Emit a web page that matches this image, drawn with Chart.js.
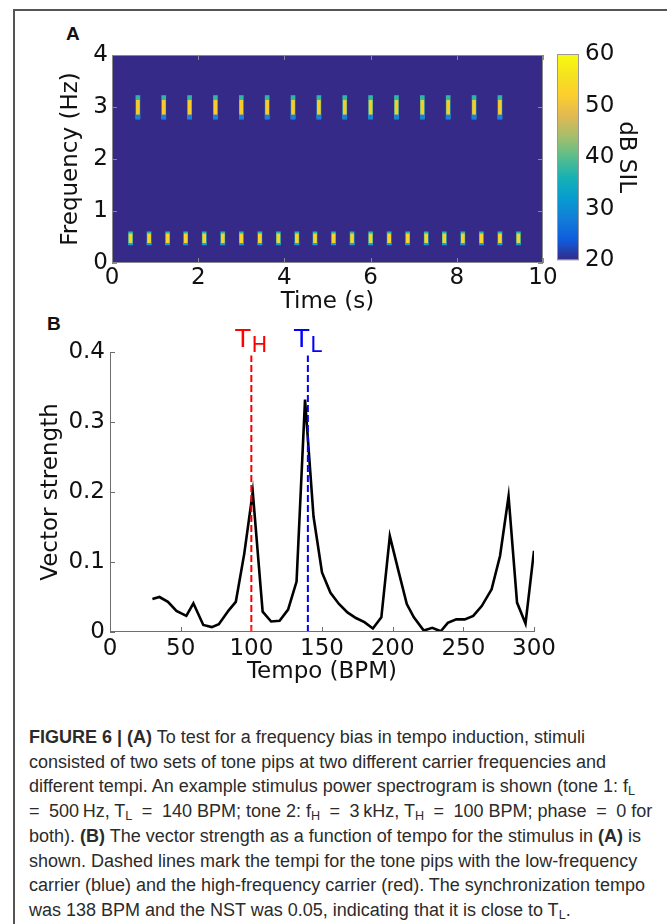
<!DOCTYPE html>
<html lang="en">
<head>
<meta charset="UTF-8">
<title>Figure 6</title>
<script src="https://cdn.jsdelivr.net/npm/chart.js"></script>
<style>
    body { margin: 0; background: #fff; }
    #page { position: relative; width: 667px; height: 924px; overflow: hidden; background: #fff; }
    .frame-left { position: absolute; left: 13px; top: 9px; width: 1.5px; height: 915px; background: #555; }
    .frame-top { position: absolute; left: 13px; top: 9px; width: 654px; height: 1.5px; background: #555; }
    canvas { position: absolute; }
    .panel-tag { position: absolute; font: bold 19px "Liberation Sans", Arial, sans-serif; color: #111; }
    #caption { position: absolute; left: 29px; top: 725px; font-family: "Liberation Sans Narrow", "Liberation Sans", Arial, sans-serif;
               font-size: 18px; line-height: 24.7px; color: #2b2b2b; white-space: nowrap; }
    #caption sub { font-size: 70%; vertical-align: -3px; line-height: 0; }
    #caption .eq { margin: 0 4.5px; }
</style>
</head>
<body>
<div id="page">
    <div class="frame-left"></div>
    <div class="frame-top"></div>
    <div class="panel-tag" style="left:66px; top:23px;">A</div>
    <div class="panel-tag" style="left:47px; top:313px;">B</div>

    <div style="position:absolute; left:0; top:30px; width:560px; height:290px;"><canvas id="spectro"></canvas></div>
    <div style="position:absolute; left:540px; top:30px; width:127px; height:250px;"><canvas id="colorbar"></canvas></div>
    <div style="position:absolute; left:0; top:310px; width:667px; height:380px;"><canvas id="vs"></canvas></div>

    <div id="caption">
        <div><b>FIGURE 6 | (A)</b> To test for a frequency bias in tempo induction, stimuli</div>
        <div>consisted of two sets of tone pips at two different carrier frequencies and</div>
        <div>different tempi. An example stimulus power spectrogram is shown (tone 1: f<sub>L</sub></div>
        <div><span class="eq" style="margin-left:0">=</span> 500&#8201;Hz, T<sub>L</sub> <span class="eq">=</span> 140 BPM; tone 2: f<sub>H</sub> <span class="eq">=</span> 3&#8201;kHz, T<sub>H</sub> <span class="eq">=</span> 100 BPM; phase <span class="eq">=</span> 0 for</div>
        <div>both). <b>(B)</b> The vector strength as a function of tempo for the stimulus in <b>(A)</b> is</div>
        <div>shown. Dashed lines mark the tempi for the tone pips with the low-frequency</div>
        <div>carrier (blue) and the high-frequency carrier (red). The synchronization tempo</div>
        <div>was 138 BPM and the NST was 0.05, indicating that it is close to T<sub>L</sub>.</div>
    </div>
</div>

<script>
    // ---- data ----
    // panel A: tone pip onsets (s) and the frequency bands they cover (Hz)
    const lowPipTimes = [0.43, 0.86, 1.29, 1.71, 2.14, 2.57, 3.0, 3.43, 3.86, 4.29, 4.71,
                         5.14, 5.57, 6.0, 6.43, 6.86, 7.29, 7.71, 8.14, 8.57, 9.0, 9.43];
    const highPipTimes = [0.6, 1.2, 1.8, 2.4, 3.0, 3.6, 4.2, 4.8, 5.4, 6.0, 6.6, 7.2, 7.8, 8.4, 9.0];
    const lowPipBand = [0.35, 0.60];
    const lowPipCore = [0.39, 0.56];
    const lowPipTip = [0.35, 0.40];
    const highPipBand = [2.77, 3.22];
    const highPipCore = [2.86, 3.13];
    const highPipTip = [2.77, 2.86];
    const dbRange = [20, 60];

    // panel B: vector strength vs tempo
    const tempoBpm = [30, 35, 41, 47, 54, 59, 66, 72, 77, 84, 89, 95, 101, 108, 114, 120, 126, 132,
                      138, 144, 150, 156, 162, 168, 174, 180, 186, 192, 198, 204, 210, 215, 222, 228,
                      234, 239, 245, 251, 257, 263, 270, 276, 282, 288, 294, 300];
    const vectorStrength = [0.047, 0.050, 0.043, 0.030, 0.023, 0.041, 0.010, 0.007, 0.011, 0.031,
                            0.043, 0.112, 0.200, 0.029, 0.015, 0.016, 0.032, 0.072, 0.332, 0.165,
                            0.085, 0.056, 0.040, 0.028, 0.020, 0.014, 0.005, 0.021, 0.137, 0.088,
                            0.040, 0.021, 0.002, 0.006, 0.001, 0.013, 0.018, 0.018, 0.023, 0.037,
                            0.061, 0.109, 0.194, 0.042, 0.012, 0.116];
    const markerTempi = [100, 140];
    const markerNames = ['H', 'L'];
    const markerTop = 0.395;

    // ---- styles ----
    const parula = ['#352a87', '#0f5cdd', '#127dd8', '#079ccf', '#15b1b4', '#59bd8c',
                    '#a5be6b', '#e1b952', '#fcce2e', '#f5e31e', '#f9fb0e'];
    const markerColors = ['#ff0000', '#0000ff'];
    const axisGray = '#6e6e6e';

    Chart.defaults.font.family = 'DejaVu Sans';
    Chart.defaults.font.size = 23;
    Chart.defaults.color = '#111';
    Chart.defaults.animation = false;
    Chart.defaults.responsive = true;
    Chart.defaults.maintainAspectRatio = false;
    Chart.defaults.plugins.legend.display = false;
    Chart.defaults.plugins.tooltip.enabled = false;

    const noGrid = {display: false, drawTicks: false};

    // MATLAB style axes: ticks pointing into the plot
    const inwardTicks = {
        id: 'inwardTicks',
        afterDatasetsDraw(chart, args, opts) {
            const {ctx, chartArea: a, scales: {x, y}} = chart;
            const len = opts.len || 5;
            ctx.save();
            ctx.strokeStyle = opts.color || axisGray;
            ctx.lineWidth = 1;
            ctx.beginPath();
            if (opts.box) {
                ctx.rect(a.left + 0.5, a.top + 0.5, a.width - 1, a.height - 1);
            } else {
                ctx.moveTo(a.left + 0.5, a.top);
                ctx.lineTo(a.left + 0.5, a.bottom - 0.5);
                ctx.lineTo(a.right, a.bottom - 0.5);
            }
            x.ticks.forEach(t => {
                const px = Math.round(x.getPixelForValue(t.value)) + 0.5;
                ctx.moveTo(px, a.bottom); ctx.lineTo(px, a.bottom - len);
                if (opts.box) { ctx.moveTo(px, a.top); ctx.lineTo(px, a.top + len); }
            });
            y.ticks.forEach(t => {
                const py = Math.round(y.getPixelForValue(t.value)) + 0.5;
                ctx.moveTo(a.left, py); ctx.lineTo(a.left + len, py);
                if (opts.box) { ctx.moveTo(a.right, py); ctx.lineTo(a.right - len, py); }
            });
            ctx.stroke();
            ctx.restore();
        }
    };

    const plotBackground = {
        id: 'plotBackground',
        beforeDatasetsDraw(chart, args, opts) {
            const {ctx, chartArea: a} = chart;
            ctx.save();
            ctx.fillStyle = opts.color;
            ctx.fillRect(a.left, a.top, a.width, a.height);
            ctx.restore();
        }
    };

    // ---- panel A: spectrogram ----
    const pipSet = (times, range) => times.map(t => ({x: t, y: range}));
    const pipDs = (data, color, order, thick) => ({
        data, backgroundColor: color, order, barThickness: thick, grouped: false, borderWidth: 0
    });

    new Chart(document.getElementById('spectro'), {
        type: 'bar',
        data: {
            datasets: [
                pipDs(pipSet(highPipTimes, highPipBand), '#2fb6a4', 3, 4),
                pipDs(pipSet(highPipTimes, highPipTip), '#1a80e0', 2, 4),
                pipDs(pipSet(highPipTimes, highPipCore), '#f6cb2a', 1, 3),
                pipDs(pipSet(lowPipTimes, lowPipBand), '#2fb6a4', 3, 4),
                pipDs(pipSet(lowPipTimes, lowPipTip), '#1a9ad8', 2, 4),
                pipDs(pipSet(lowPipTimes, lowPipCore), '#f6d22a', 1, 3)
            ]
        },
        options: {
            layout: {padding: {left: 53, right: 17, top: 25, bottom: 0}},
            scales: {
                x: {
                    type: 'linear', min: 0, max: 10, offset: false,
                    grid: noGrid, border: {display: false},
                    ticks: {stepSize: 2, padding: 1, maxRotation: 0},
                    title: {display: true, text: 'Time (s)', padding: {top: 0, bottom: 4}},
                    afterFit: s => { s.height = 57; }
                },
                y: {
                    min: 0, max: 4,
                    grid: noGrid, border: {display: false},
                    ticks: {stepSize: 1, padding: 4},
                    title: {display: true, text: 'Frequency (Hz)', padding: {top: 4, bottom: 0}},
                    afterFit: s => { s.width = 59; }
                }
            },
            plugins: {
                plotBackground: {color: parula[0]},
                inwardTicks: {box: true, color: '#8a8a8a', len: 5}
            }
        },
        plugins: [plotBackground, inwardTicks]
    });

    // ---- colour bar ----
    new Chart(document.getElementById('colorbar'), {
        type: 'bar',
        data: {
            labels: [''],
            datasets: [{
                data: [dbRange],
                barPercentage: 1, categoryPercentage: 1, borderWidth: 0,
                backgroundColor: ctx => {
                    const a = ctx.chart.chartArea;
                    if (!a) return parula[0];
                    const g = ctx.chart.ctx.createLinearGradient(0, a.bottom, 0, a.top);
                    parula.forEach((c, i) => g.addColorStop(i / (parula.length - 1), c));
                    return g;
                }
            }]
        },
        options: {
            layout: {padding: {left: 17, right: 21, top: 24, bottom: 17}},
            scales: {
                x: {display: false},
                y: {
                    position: 'right', min: dbRange[0], max: dbRange[1],
                    grid: noGrid, border: {display: false},
                    ticks: {stepSize: 10, padding: 6},
                    title: {display: true, text: 'dB SIL', padding: {top: 6, bottom: 4}},
                    afterFit: s => { s.width = 67; }
                }
            }
        },
        plugins: [{
            id: 'barFrame',
            afterDatasetsDraw(chart) {
                const {ctx, chartArea: a} = chart;
                ctx.save();
                ctx.strokeStyle = '#9a9a9a';
                ctx.lineWidth = 1;
                ctx.strokeRect(a.left + 0.5, a.top + 0.5, a.width - 1, a.height - 1);
                ctx.restore();
            }
        }]
    });

    // ---- panel B: vector strength ----
    const tempoLabels = {
        id: 'tempoLabels',
        afterDraw(chart) {
            const {ctx, chartArea: a, scales: {x}} = chart;
            ctx.save();
            ctx.textBaseline = 'alphabetic';
            ctx.textAlign = 'left';
            markerTempi.forEach((v, i) => {
                const px = x.getPixelForValue(v);
                ctx.font = '25px "DejaVu Sans"';
                const wT = ctx.measureText('T').width;
                ctx.font = '21px "DejaVu Sans"';
                const wS = ctx.measureText(markerNames[i]).width;
                const left = px - (wT + 1 + wS) / 2;
                ctx.fillStyle = markerColors[i];
                ctx.font = '25px "DejaVu Sans"';
                ctx.fillText('T', left, a.top - 5);
                ctx.font = '21px "DejaVu Sans"';
                ctx.fillText(markerNames[i], left + wT + 1, a.top + 0);
            });
            ctx.restore();
        }
    };

    const markerDs = (v, i) => ({
        type: 'line',
        data: [{x: v, y: 0}, {x: v, y: markerTop}],
        borderColor: markerColors[i], borderWidth: 2, borderDash: [7, 3],
        pointRadius: 0, order: 1
    });

    new Chart(document.getElementById('vs'), {
        type: 'line',
        data: {
            datasets: [
                {
                    data: tempoBpm.map((t, i) => ({x: t, y: vectorStrength[i]})),
                    borderColor: '#000', borderWidth: 2.6, pointRadius: 0, tension: 0, order: 2
                },
                ...markerTempi.map(markerDs)
            ]
        },
        options: {
            layout: {padding: {left: 33, right: 133, top: 42, bottom: 0}},
            scales: {
                x: {
                    type: 'linear', min: 0, max: 300,
                    grid: noGrid, border: {display: false},
                    ticks: {stepSize: 50, padding: 3, maxRotation: 0},
                    title: {display: true, text: 'Tempo (BPM)', padding: {top: 0, bottom: 4}},
                    afterFit: s => { s.height = 58; }
                },
                y: {
                    min: 0, max: 0.4,
                    grid: noGrid, border: {display: false},
                    ticks: {stepSize: 0.1, padding: 5},
                    title: {display: true, text: 'Vector strength', padding: {top: 4, bottom: 0}},
                    afterFit: s => { s.width = 77; }
                }
            },
            plugins: {
                inwardTicks: {box: false, color: axisGray, len: 5}
            }
        },
        plugins: [inwardTicks, tempoLabels]
    });
</script>
</body>
</html>
